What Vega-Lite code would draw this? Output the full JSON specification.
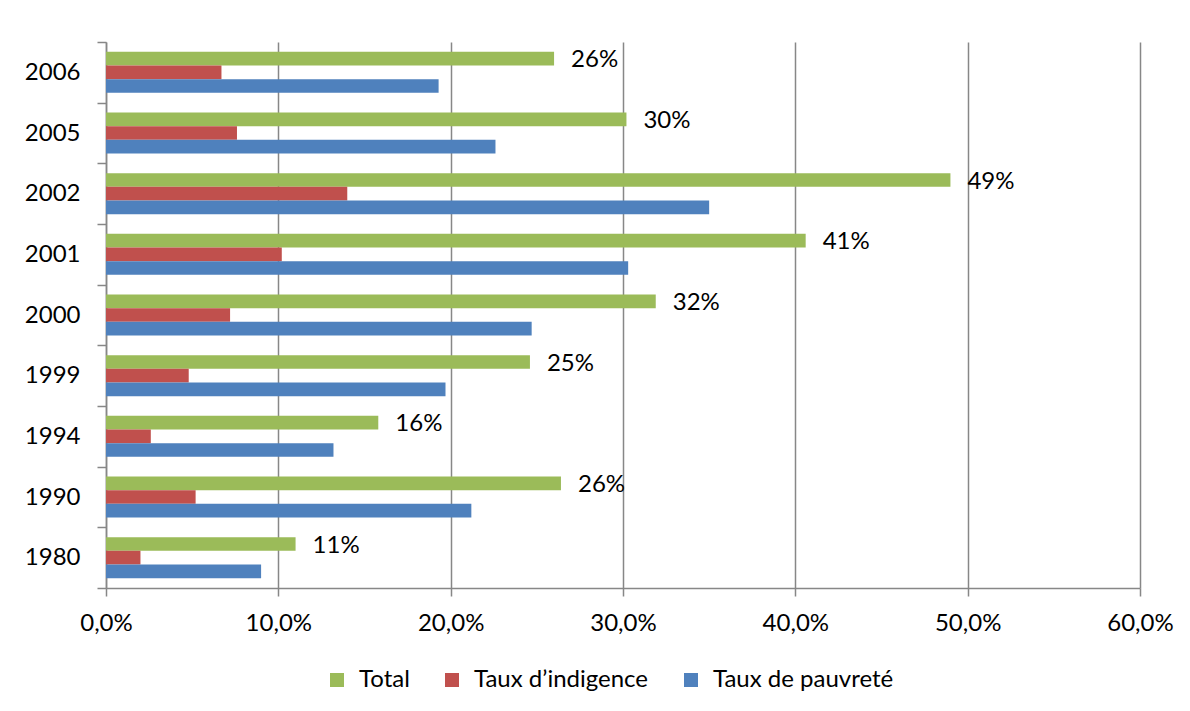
{
  "$schema": "https://vega.github.io/schema/vega-lite/v6.json",
  "width": 1034,
  "height": 546,
  "autosize": {"type": "none"},
  "padding": {"left": 106, "top": 42, "right": 50, "bottom": 123},
  "config": {
    "font": "Lato",
    "view": {"stroke": null},
    "axis": {"labelColor": "#000000", "labelFont": "Lato", "labelFontSize": 24, "domainColor": "#878787", "tickColor": "#878787", "gridColor": "#878787", "domainWidth": 1.5, "tickWidth": 1.5, "gridWidth": 1.5, "gridOpacity": 1}
  },
  "data": {
    "values": [
      {"year": "2006", "series": "Total", "value": 0.260},
      {"year": "2006", "series": "Taux d’indigence", "value": 0.067},
      {"year": "2006", "series": "Taux de pauvreté", "value": 0.193},
      {"year": "2005", "series": "Total", "value": 0.302},
      {"year": "2005", "series": "Taux d’indigence", "value": 0.076},
      {"year": "2005", "series": "Taux de pauvreté", "value": 0.226},
      {"year": "2002", "series": "Total", "value": 0.490},
      {"year": "2002", "series": "Taux d’indigence", "value": 0.140},
      {"year": "2002", "series": "Taux de pauvreté", "value": 0.350},
      {"year": "2001", "series": "Total", "value": 0.406},
      {"year": "2001", "series": "Taux d’indigence", "value": 0.102},
      {"year": "2001", "series": "Taux de pauvreté", "value": 0.303},
      {"year": "2000", "series": "Total", "value": 0.319},
      {"year": "2000", "series": "Taux d’indigence", "value": 0.072},
      {"year": "2000", "series": "Taux de pauvreté", "value": 0.247},
      {"year": "1999", "series": "Total", "value": 0.246},
      {"year": "1999", "series": "Taux d’indigence", "value": 0.048},
      {"year": "1999", "series": "Taux de pauvreté", "value": 0.197},
      {"year": "1994", "series": "Total", "value": 0.158},
      {"year": "1994", "series": "Taux d’indigence", "value": 0.026},
      {"year": "1994", "series": "Taux de pauvreté", "value": 0.132},
      {"year": "1990", "series": "Total", "value": 0.264},
      {"year": "1990", "series": "Taux d’indigence", "value": 0.052},
      {"year": "1990", "series": "Taux de pauvreté", "value": 0.212},
      {"year": "1980", "series": "Total", "value": 0.110},
      {"year": "1980", "series": "Taux d’indigence", "value": 0.020},
      {"year": "1980", "series": "Taux de pauvreté", "value": 0.090}
    ]
  },
  "encoding": {
    "y": {
      "field": "year",
      "type": "nominal",
      "sort": ["2006", "2005", "2002", "2001", "2000", "1999", "1994", "1990", "1980"],
      "scale": {"paddingInner": 0, "paddingOuter": 0},
      "axis": {"title": null, "tickBand": "extent", "tickSize": 9, "labelPadding": 17, "grid": false}
    }
  },
  "layer": [
    {
      "mark": {"type": "bar"},
      "encoding": {
        "x": {
          "field": "value",
          "type": "quantitative",
          "scale": {"domain": [0, 0.6]},
          "axis": {
            "title": null,
            "values": [0, 0.1, 0.2, 0.3, 0.4, 0.5, 0.6],
            "labelExpr": "replace(format(datum.value, '.1%'), '.', ',')",
            "labelFlush": false,
            "labelOverlap": false,
            "grid": true,
            "tickSize": 8,
            "labelPadding": 15
          }
        },
        "yOffset": {
          "field": "series",
          "type": "nominal",
          "sort": ["Total", "Taux d’indigence", "Taux de pauvreté"],
          "scale": {"paddingInner": 0, "paddingOuter": 0.72}
        },
        "color": {
          "field": "series",
          "type": "nominal",
          "sort": ["Total", "Taux d’indigence", "Taux de pauvreté"],
          "scale": {"domain": ["Total", "Taux d’indigence", "Taux de pauvreté"], "range": ["#9BBB59", "#C0504D", "#4F81BD"]},
          "legend": {
            "title": null,
            "orient": "none",
            "legendX": 219,
            "legendY": 626,
            "direction": "horizontal",
            "symbolType": "square",
            "symbolSize": 196,
            "symbolStrokeWidth": 0,
            "labelFontSize": 24,
            "labelLimit": 400,
            "labelOffset": 10,
            "labelColor": "#000000",
            "columnPadding": 30
          }
        }
      }
    },
    {
      "transform": [{"filter": "datum.series === 'Total'"}],
      "mark": {"type": "text", "align": "left", "baseline": "middle", "dx": 17, "dy": -12, "fontSize": 24, "color": "#000000"},
      "encoding": {
        "x": {"field": "value", "type": "quantitative"},
        "text": {"field": "value", "type": "quantitative", "format": ".0%"}
      }
    }
  ]
}
